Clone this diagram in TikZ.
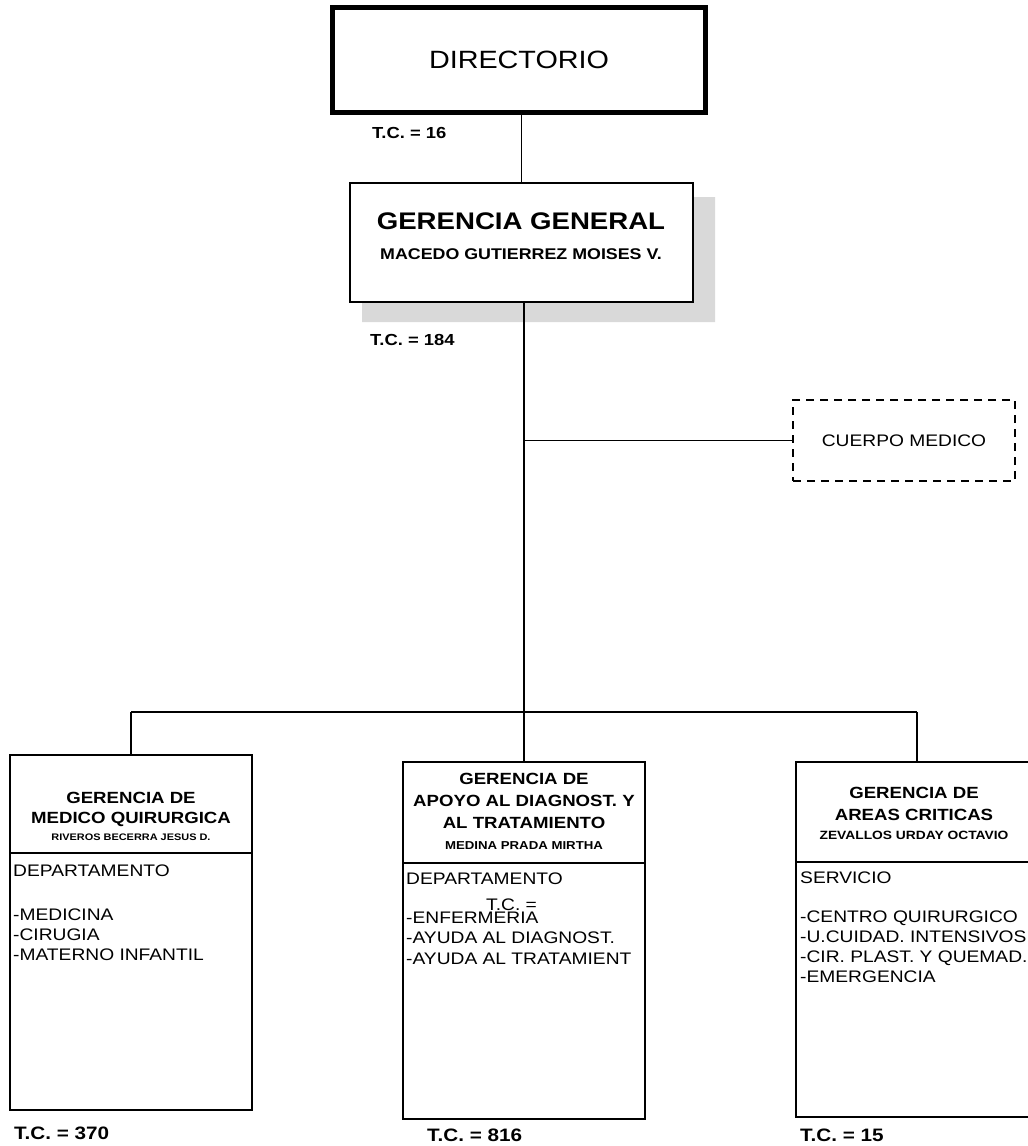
\documentclass[tikz,border=0pt]{standalone}
\usepackage{fontspec}
\setmainfont{Liberation Sans}[FakeStretch=1.15]
\usetikzlibrary{positioning}

\tikzset{
  boxline/.style={draw, line width=1.3pt, inner sep=0pt, outer sep=0pt},
  dirbox/.style={boxline, line width=5pt, font=\fontsize{25}{30}\selectfont},
  unitbox/.style={boxline, minimum width=242},
  dashbox/.style={draw, line width=1.1pt, dash pattern=on 8pt off 6pt, inner sep=0pt,
    minimum width=222, minimum height=81, font=\fontsize{16.7}{20}\selectfont},
  tc/.style={anchor=base west, inner sep=0pt, font=\bfseries\fontsize{16}{18}\selectfont},
  tcbig/.style={tc, font=\bfseries\fontsize{18}{20}\selectfont},
  headtxt/.style={anchor=base, inner sep=0pt, font=\bfseries\fontsize{16.2}{20}\selectfont},
  nametxt/.style={anchor=base, inner sep=0pt, font=\bfseries\fontsize{#1}{14}\selectfont},
  itemtxt/.style={anchor=base west, inner sep=0pt, font=\fontsize{16.7}{20}\selectfont},
  link/.style={line width=1.3pt},
}

\begin{document}
\begin{tikzpicture}[x=1pt, y=-1pt]
  \useasboundingbox (0,0) rectangle (1028,1146);

  % directorio
  \node[dirbox, minimum width=373, minimum height=105] (dir) at (519,60) {DIRECTORIO};
  \node[tc] (tcdir) at (372,138) {T.C. = 16};

  % gerencia general, with its grey shadow
  \fill[gray!30] (693,197) -- (715,197) -- (715,322) -- (362,322) -- (362,302) -- (693,302) -- cycle;
  \node[boxline, fill=white, minimum width=343, minimum height=119] (gg) at (521.5,242.5) {};
  \node[anchor=base, inner sep=0pt, font=\bfseries\fontsize{24}{28}\selectfont] (ggtitle) at (521,229) {GERENCIA GENERAL};
  \node[anchor=base, inner sep=0pt, font=\bfseries\fontsize{15.5}{18}\selectfont] (ggname) at (521,259.5) {MACEDO GUTIERREZ MOISES V.};
  \node[tc] (tcgg) at (370,345) {T.C. = 184};

  % staff box
  \node[dashbox] (cm) at (904,440.5) {CUERPO MEDICO};

  % medico quirurgica
  \node[unitbox, minimum height=98] (mq) at (131,804) {};
  \node[unitbox, minimum height=257, below=0pt of mq] (mqbody) {};
  \node[headtxt] (mqh1) at (131,803) {GERENCIA DE};
  \node[headtxt] (mqh2) at (131,823) {MEDICO QUIRURGICA};
  \node[nametxt=9.5] (mqname) at (131,840) {RIVEROS BECERRA JESUS D.};
  \node[itemtxt] (mqdep) at (13,876) {DEPARTAMENTO};
  \foreach \txt [count=\i] in {-MEDICINA, -CIRUGIA, -MATERNO INFANTIL}
    \node[itemtxt] (mqit\i) at (13,900+20*\i) {\txt};
  \node[tcbig] (tcmq) at (14,1139) {T.C. = 370};

  % apoyo al diagnostico
  \node[unitbox, minimum height=101] (ad) at (524,812.5) {};
  \node[unitbox, minimum height=256, below=0pt of ad] (adbody) {};
  \node[headtxt] (adh1) at (524,784) {GERENCIA DE};
  \node[headtxt] (adh2) at (524,806) {APOYO AL DIAGNOST. Y};
  \node[headtxt] (adh3) at (524,828) {AL TRATAMIENTO};
  \node[nametxt=11.5] (adname) at (524,849) {MEDINA PRADA MIRTHA};
  \node[itemtxt] (addep) at (406,884) {DEPARTAMENTO};
  \node[itemtxt] (adtc) at (486,910) {T.C. =};
  \foreach \txt [count=\i] in {-ENFERMERIA, -AYUDA AL DIAGNOST., -AYUDA AL TRATAMIENT}
    \node[itemtxt] (adit\i) at (406,902.5+20.5*\i) {\txt};
  \node[tcbig] (tcad) at (427,1141) {T.C. = 816};

  % areas criticas
  \node[unitbox, minimum height=100] (ac) at (917,812) {};
  \node[unitbox, minimum height=255, below=0pt of ac] (acbody) {};
  \node[headtxt] (ach1) at (914,798) {GERENCIA DE};
  \node[headtxt] (ach2) at (914,820) {AREAS CRITICAS};
  \node[nametxt=12] (acname) at (914,839) {ZEVALLOS URDAY OCTAVIO};
  \node[itemtxt] (acdep) at (800,883) {SERVICIO};
  \foreach \txt [count=\i] in {-CENTRO QUIRURGICO, -U.CUIDAD. INTENSIVOS, -CIR. PLAST. Y QUEMAD., -EMERGENCIA}
    \node[itemtxt] (acit\i) at (800,902+20*\i) {\txt};
  \node[tcbig] (tcac) at (800,1141) {T.C. = 15};

  % connectors
  \coordinate (bus) at (524,712);
  \draw[link] (gg.north |- dir.south) -- (gg.north);
  \draw[link] (bus |- gg.south) -- (bus);
  \draw[link] (bus |- cm.west) -- (cm.west);
  \draw[link] (mq.north |- bus) -- (ac.north |- bus);
  \draw[link] (mq.north |- bus) -- (mq.north);
  \draw[link] (bus) -- (ad.north);
  \draw[link] (ac.north |- bus) -- (ac.north);
\end{tikzpicture}
\end{document}
